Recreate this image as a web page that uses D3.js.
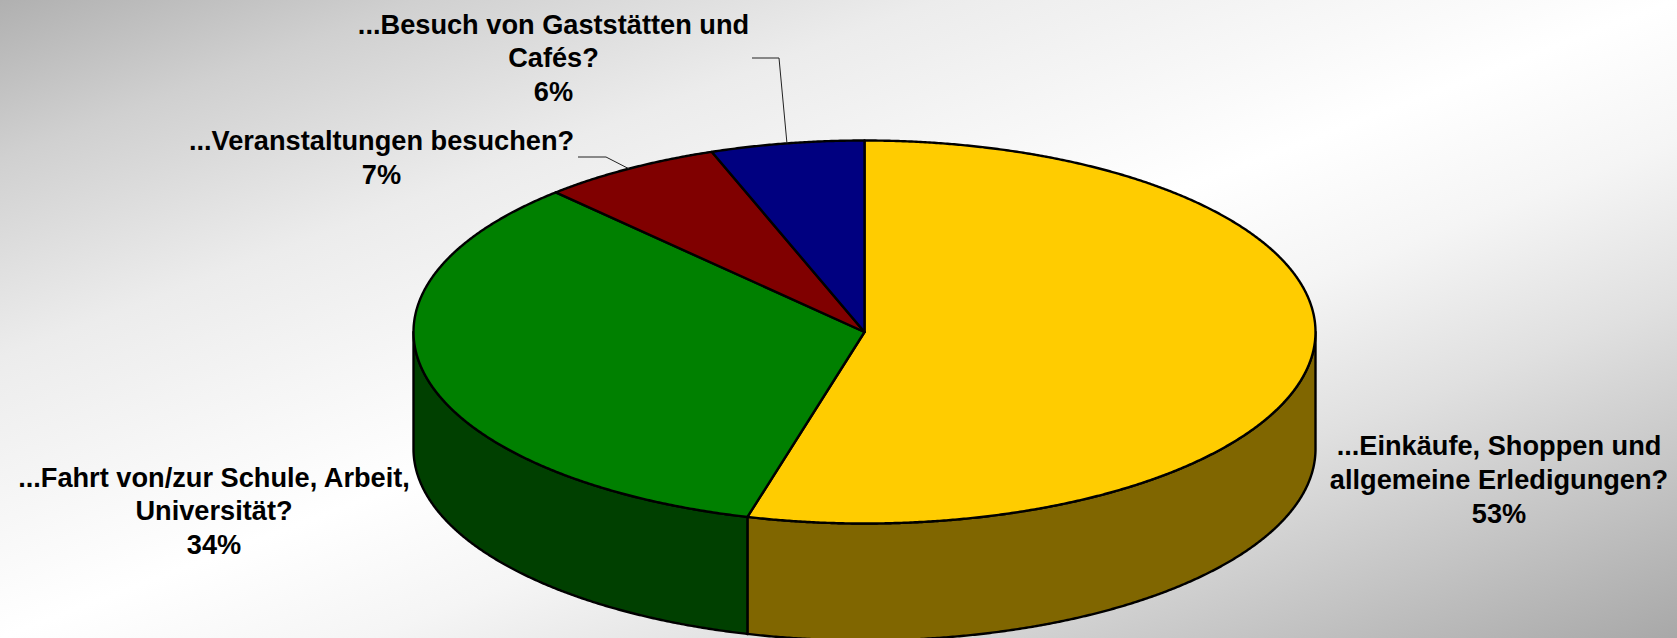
<!DOCTYPE html>
<html>
<head>
	<title>Pie</title>
	<script src="https://cdnjs.cloudflare.com/ajax/libs/d3/7.8.5/d3.min.js"></script>
	<style type="text/css">
	html, body{
		margin:0;
		padding:0;
		overflow:hidden;
		background:#fff;
	}
	svg{
		display:block;
	}
	text{
		font-family:"Liberation Sans", Arial, sans-serif;
		font-weight:bold;
		font-size:27.2px;
		fill:#000;
		text-anchor:middle;
	}
	</style>
</head>
<body>
	<div id="chart"></div>
	<script type="text/javascript">
	var categories = ["Einkaufe", "Fahrt", "Veranstaltungen", "Gaststaetten"];
	var shares = [54.18, 33.82, 6.5, 5.5];
	var labelLines = [
		["...Einkäufe, Shoppen und", "allgemeine Erledigungen?"],
		["...Fahrt von/zur Schule, Arbeit,", "Universität?"],
		["...Veranstaltungen besuchen?"],
		["...Besuch von Gaststätten und", "Cafés?"]
	];
	var percentLabels = ["53%", "34%", "7%", "6%"];
	var topColors = ["#ffcc00", "#008000", "#800000", "#000080"];
	var sideColors = ["#806600", "#004000", "#400000", "#000040"];

	var width = 1677, height = 638;
	var cx = 864.5, cy = 332, rx = 451, ry = 191.5, depth = 117;

	var labelPos = [
		{x:1499, y:455},
		{x:214, y:486.5},
		{x:381.5, y:150},
		{x:553.5, y:33.5}
	];
	var leaders = [
		null,
		null,
		{x0:578, x1:606, y:157},
		{x0:752, x1:779, y:58}
	];
	var lineHeight = 33.8;

	var bgStops = [
		[0, "#b0b0b0"], [0.125, "#d0d0d0"], [0.28, "#ececec"], [0.5, "#ffffff"],
		[0.61, "#f5f5f5"], [0.735, "#e0e0e0"], [0.87, "#c4c4c4"], [1, "#a8a8a8"]
	];

	var svg = d3.select("#chart").append("svg")
		.attr("width", width)
		.attr("height", height);

	// bounding box units so the bands run along the other corner to corner diagonal
	var grad = svg.append("defs").append("linearGradient")
		.attr("id", "bg")
		.attr("x1", 0).attr("y1", 0)
		.attr("x2", 1).attr("y2", 1);
	bgStops.forEach(function(s){
		grad.append("stop").attr("offset", s[0]).attr("stop-color", s[1]);
	});

	svg.append("rect")
		.attr("width", width)
		.attr("height", height)
		.attr("fill", "url(#bg)");

	// angle 0 is at 12 o'clock, going clockwise
	var sx = d3.scaleLinear().domain([-1, 1]).range([cx - rx, cx + rx]);
	var sy = d3.scaleLinear().domain([-1, 1]).range([cy - ry, cy + ry]);
	function px(a){ return sx(Math.sin(a)); }
	function py(a){ return sy(-Math.cos(a)); }

	var pie = d3.pie().sort(null);
	var arcs = pie(shares);

	function sweep(a0, a1){
		var n = Math.max(2, Math.ceil((a1 - a0) / 0.005));
		return d3.range(n + 1).map(function(i){ return a0 + (a1 - a0) * i / n; });
	}

	var line = d3.line();

	// side wall, only the front half (90deg to 270deg) can be seen
	var sides = arcs.map(function(d, i){
		var a0 = Math.max(d.startAngle, Math.PI / 2);
		var a1 = Math.min(d.endAngle, Math.PI * 1.5);
		if(a1 <= a0) return null;
		var pts = sweep(a0, a1);
		var upper = pts.map(function(a){ return [px(a), py(a)]; });
		var lower = pts.slice().reverse().map(function(a){ return [px(a), py(a) + depth]; });
		return {i:i, path:line(upper.concat(lower)) + "Z"};
	}).filter(function(d){ return d; });

	svg.selectAll("path.side")
		.data(sides)
		.enter().append("path")
		.attr("class", "side")
		.attr("d", function(d){ return d.path; })
		.attr("fill", function(d){ return sideColors[d.i]; })
		.attr("stroke", "#000")
		.attr("stroke-width", 2.4)
		.attr("stroke-linejoin", "round");

	svg.selectAll("path.top")
		.data(arcs)
		.enter().append("path")
		.attr("class", "top")
		.attr("d", function(d){
			var pts = sweep(d.startAngle, d.endAngle).map(function(a){ return [px(a), py(a)]; });
			return line([[cx, cy]].concat(pts)) + "Z";
		})
		.attr("fill", function(d, i){ return topColors[i]; })
		.attr("stroke", "#000")
		.attr("stroke-width", 2.4)
		.attr("stroke-linejoin", "round");

	// leader lines end on the middle of their slice
	arcs.forEach(function(d, i){
		var l = leaders[i];
		if(!l) return;
		var mid = (d.startAngle + d.endAngle) / 2;
		svg.append("path")
			.attr("d", line([[l.x0, l.y], [l.x1, l.y], [px(mid), py(mid)]]))
			.attr("fill", "none")
			.attr("stroke", "#222")
			.attr("stroke-width", 1);
	});

	labelLines.forEach(function(lines, i){
		var all = lines.concat([percentLabels[i]]);
		var t = svg.append("text");
		all.forEach(function(s, j){
			t.append("tspan")
				.attr("x", labelPos[i].x)
				.attr("y", labelPos[i].y + j * lineHeight)
				.text(s);
		});
	});
	</script>
</body>
</html>
